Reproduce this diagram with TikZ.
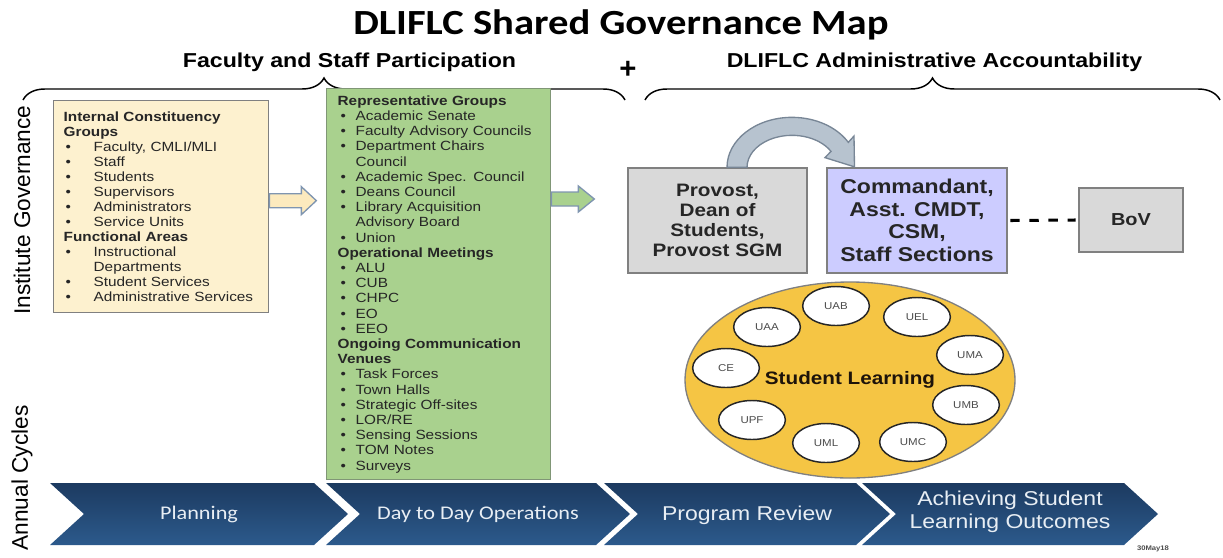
\documentclass[tikz,border=0pt]{standalone}
\usepackage{fontspec}
\setmainfont{Liberation Sans}[FakeStretch=1.15]
\newfontfamily\calfont{Carlito}[FakeStretch=1.15]
\newfontfamily\sidefont{Liberation Sans}
\usetikzlibrary{shapes.geometric,decorations.pathreplacing,calc}

\definecolor{beigebox}{RGB}{253,241,207}
\definecolor{beigearrow}{RGB}{252,234,190}
\definecolor{greenbox}{RGB}{169,209,142}
\definecolor{greenline}{RGB}{128,150,118}
\definecolor{boxline}{RGB}{128,128,128}
\definecolor{graybox}{RGB}{217,217,217}
\definecolor{lavbox}{RGB}{204,204,255}
\definecolor{goldfill}{RGB}{245,197,68}
\definecolor{arrowline}{RGB}{127,149,176}
\definecolor{bendfill}{RGB}{183,195,207}
\definecolor{bendline}{RGB}{120,134,150}
\definecolor{navytop}{RGB}{28,58,96}
\definecolor{navybot}{RGB}{44,90,140}
\definecolor{chevlabel}{RGB}{232,238,244}
\definecolor{darktext}{RGB}{38,38,38}

\newcommand{\litem}[1]{\makebox[22.5pt][l]{\hspace{1.5pt}\textbullet}#1}
\newcommand{\gitem}[1]{\makebox[13.5pt][l]{\hspace{2.25pt}\textbullet}#1}

\tikzset{every picture/.style={line width=0.75pt}}
\tikzset{
  listbox/.style={rectangle, anchor=north west, align=left, inner ysep=0pt, line width=1pt},
  govbox/.style={rectangle, draw=boxline, line width=1pt, align=center, text=darktext,
    font=\bfseries\fontsize{13.5}{15}\selectfont},
  unit/.style={ellipse, draw=black!85, fill=white, line width=1.1pt, minimum width=50pt,
    minimum height=29.25pt, inner sep=0pt, text=black!70, font=\fontsize{7.5}{8}\selectfont},
  chevron/.style={top color=navytop, bottom color=navybot},
  chevtext/.style={text=chevlabel, align=center},
  blockarrow/.style={draw=arrowline, line width=1pt, line join=miter},
  curly/.style={decorate, decoration={brace, amplitude=16.5pt}, line width=1.1pt},
}

\begin{document}
\begin{tikzpicture}[x=0.75pt,y=0.75pt,yscale=-1,xscale=1]
	\useasboundingbox (0,0) rectangle (1223,557);

	% Text Node
	\node[font=\calfont\bfseries\fontsize{26.5}{30}\selectfont] (title) at (621,25) {DLIFLC Shared Governance Map};
	% Text Node
	\node[font=\bfseries\fontsize{15.1}{17}\selectfont] (fsp) at (349.5,62) {Faculty and Staff Participation};
	% Text Node
	\node[font=\bfseries\fontsize{15.1}{17}\selectfont] (daa) at (934.5,62) {DLIFLC Administrative Accountability};
	% Text Node
	\node[font=\sidefont\bfseries\fontsize{22}{22}\selectfont] (plus) at (628,70) {+};

	%Shape: Brace
	\draw[curly] (23,100) -- (625,100);
	%Shape: Brace
	\draw[curly] (645,100) -- (1220,100);

	% Text Node
	\node[rotate=90, font=\sidefont\fontsize{17}{17}\selectfont] (ig) at (22,210) {Institute Governance};
	% Text Node
	\node[rotate=90, font=\sidefont\fontsize{17}{17}\selectfont] (ac) at (22,478) {Annual Cycles};

	%Shape: Rectangle
	\node[listbox, draw=boxline, fill=beigebox, text=darktext, minimum width=161.25pt, minimum height=159pt,
		inner xsep=7.5pt, text width=146.25pt, font=\fontsize{10}{11.25}\selectfont] (lbox) at (53,100) {%
		\textbf{Internal Constituency}\\
		\textbf{Groups}\\
		\litem{Faculty, CMLI/MLI}\\
		\litem{Staff}\\
		\litem{Students}\\
		\litem{Supervisors}\\
		\litem{Administrators}\\
		\litem{Service Units}\\
		\textbf{Functional Areas}\\
		\litem{Instructional}\\
		\hspace*{22.5pt}Departments\\
		\litem{Student Services}\\
		\litem{Administrative Services}};

	%Shape: Rectangle
	\node[listbox, draw=greenline, fill=greenbox, text=black!85, minimum width=168pt, minimum height=293.25pt,
		inner xsep=8.25pt, text width=151.5pt, font=\fontsize{10}{11.4}\selectfont] (gbox) at (326,88) {%
		\textbf{Representative Groups}\\
		\gitem{Academic Senate}\\
		\gitem{Faculty Advisory Councils}\\
		\gitem{Department Chairs}\\
		\hspace*{13.5pt}Council\\
		\gitem{Academic Spec. Council}\\
		\gitem{Deans Council}\\
		\gitem{Library Acquisition}\\
		\hspace*{13.5pt}Advisory Board\\
		\gitem{Union}\\
		\textbf{Operational Meetings}\\
		\gitem{ALU}\\
		\gitem{CUB}\\
		\gitem{CHPC}\\
		\gitem{EO}\\
		\gitem{EEO}\\
		\textbf{Ongoing Communication}\\
		\textbf{Venues}\\
		\gitem{Task Forces}\\
		\gitem{Town Halls}\\
		\gitem{Strategic Off-sites}\\
		\gitem{LOR/RE}\\
		\gitem{Sensing Sessions}\\
		\gitem{TOM Notes}\\
		\gitem{Surveys}};

	%Shape: Right Arrow
	\draw[blockarrow, fill=beigearrow] ($(lbox.east)+(0,-13)$) -- ++(32,0) -- ++(0,-7) -- ++(15,14) -- ++(-15,14) -- ++(0,-7) -- ++(-32,0) -- cycle;
	%Shape: Right Arrow
	\draw[blockarrow, fill=greenbox] ($(gbox.north east)+(0,104)$) -- ++(27,0) -- ++(0,-6) -- ++(16,13) -- ++(-16,13) -- ++(0,-6) -- ++(-27,0) -- cycle;

	%Shape: Rectangle
	\node[govbox, fill=graybox, minimum width=134.25pt, minimum height=78.75pt] (prov) at (717.5,220.5) {Provost,\\Dean of\\Students,\\Provost SGM};
	%Shape: Rectangle
	\node[govbox, fill=lavbox, minimum width=135pt, minimum height=78.75pt,
		font=\bfseries\fontsize{15}{17}\selectfont] (cmd) at (917,220.5) {Commandant,\\Asst. CMDT,\\CSM,\\Staff Sections};
	%Shape: Rectangle
	\node[govbox, fill=graybox, minimum width=78pt, minimum height=48pt, font=\bfseries\fontsize{13}{15}\selectfont] (bov) at (1131,220) {BoV};

	%Curve Lines
	\filldraw[draw=bendline, fill=bendfill, line width=1pt] ($(prov.north)+(9.5,0)$)
		arc[start angle=180, end angle=330, x radius=65, y radius=50]
		-- ++(5.7,-6.3) -- ++(0.5,30.8) -- ++(-29.5,-9.2) -- ++(6,-6.3)
		arc[start angle=330, end angle=180, x radius=45, y radius=32] -- cycle;
	%Straight Lines
	\draw[line width=2.3pt, dash pattern={on 7pt off 7.3pt}, shorten <=2pt, shorten >=2pt] (cmd.east) -- (bov.west);

	%Shape: Ellipse
	\node[ellipse, draw=boxline, fill=goldfill, line width=1pt, minimum width=247.5pt, minimum height=147pt,
		text=black!85!brown, font=\bfseries\fontsize{13.5}{15}\selectfont] (sl) at (850,380) {Student Learning};
	\foreach \ux/\uy/\ut in {836/306/UAB, 917/317/UEL, 767/327/UAA, 970/355/UMA, 726/368/CE,
		966/405/UMB, 752/420/UPF, 826/443/UML, 913/442/UMC}
		\node[unit] (u-\ut) at (\ux,\uy) {\ut};

	%Shape: Chevrons
	\foreach \cl/\cr in {50/314, 326/596, 604/856, 862/1124}
		\path[chevron] (\cl,483) -- (\cr,483) -- (\cr+34,514) -- (\cr,545) -- (\cl,545) -- (\cl+34,514) -- cycle;

	% Text Node
	\node[chevtext, font=\calfont\fontsize{14.5}{17}\selectfont] (plan) at (199,514) {Planning};
	% Text Node
	\node[chevtext, font=\calfont\fontsize{14.5}{17}\selectfont] (ops) at (478,514) {Day to Day Operations};
	% Text Node
	\node[chevtext, font=\fontsize{15}{17}\selectfont] (rev) at (747,515) {Program Review};
	% Text Node
	\node[chevtext, font=\fontsize{15}{17}\selectfont] (slo) at (1010,512) {Achieving Student\\Learning Outcomes};
	% Text Node
	\node[font=\bfseries\fontsize{5}{6}\selectfont, text=black!70] (date) at (1153,549) {30May18};

\end{tikzpicture}
\end{document}
